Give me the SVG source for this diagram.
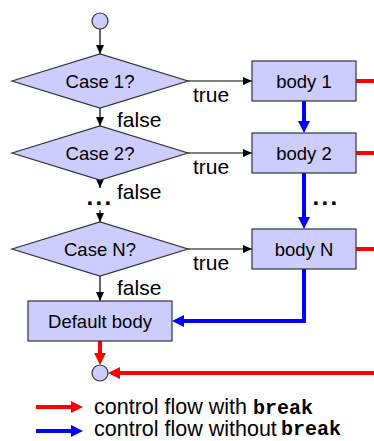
<svg xmlns="http://www.w3.org/2000/svg" width="374" height="441" viewBox="0 0 374 441">
<style>
.node{fill:#ccccff;stroke:#333;stroke-width:1.2}
.nt{font-family:"Liberation Sans",Arial,sans-serif;font-size:18.5px;fill:#000;text-anchor:middle}
.lbl{font-family:"Liberation Sans",Arial,sans-serif;font-size:21px;fill:#000}
.leg{font-family:"Liberation Sans",Arial,sans-serif;font-size:21.5px;fill:#000}
.mono{font-family:"Liberation Mono","Courier New",monospace;font-size:20px;font-weight:bold;fill:#000}
.blk{fill:none;stroke:#000;stroke-width:1.2}
.red{fill:none;stroke:#ff0000;stroke-width:4}
.blue{fill:none;stroke:#0000ff;stroke-width:4}
.dots{font-family:"Liberation Sans",Arial,sans-serif;font-size:24px;font-weight:bold;letter-spacing:2.3px;fill:#000}
</style>
<defs>
<marker id="ab" markerUnits="userSpaceOnUse" markerWidth="9" markerHeight="8" viewBox="0 0 9 8" refX="9" refY="4" orient="auto">
<path d="M0,0 L9,4 L0,8 z" fill="#000"/>
</marker>
<marker id="ar" markerUnits="userSpaceOnUse" markerWidth="12" markerHeight="12" viewBox="0 0 12 12" refX="4" refY="6" orient="auto">
<path d="M0,0 L12,6 L0,12 z" fill="#ff0000"/>
</marker>
<marker id="au" markerUnits="userSpaceOnUse" markerWidth="12" markerHeight="12" viewBox="0 0 12 12" refX="4" refY="6" orient="auto">
<path d="M0,0 L12,6 L0,12 z" fill="#0000ff"/>
</marker>
</defs>
<rect width="374" height="441" fill="#fff"/>

<g id="connectors">
<path class="blk" d="M100,29 V54" marker-end="url(#ab)"/>
<path class="blk" d="M100,108 V126" marker-end="url(#ab)"/>
<path class="blk" d="M100,180 V188" marker-end="url(#ab)"/>
<path class="blk" d="M100,210 V222" marker-end="url(#ab)"/>
<path class="blk" d="M100,276 V301" marker-end="url(#ab)"/>
<path class="blk" d="M188,81 H252" marker-end="url(#ab)"/>
<path class="blk" d="M188,153 H252" marker-end="url(#ab)"/>
<path class="blk" d="M188,249 H252" marker-end="url(#ab)"/>
<path class="blue" d="M304,101 V125" marker-end="url(#au)"/>
<path class="blue" d="M304,173 V221" marker-end="url(#au)"/>
<path class="blue" d="M304,269 V321 H180" marker-end="url(#au)"/>
<path class="red" d="M356,81 H374"/>
<path class="red" d="M356,153 H374"/>
<path class="red" d="M356,249 H374"/>
<path class="red" d="M100,341 V357" marker-end="url(#ar)"/>
<path class="red" d="M374,373 H116" marker-end="url(#ar)"/>
</g>

<g id="start"><circle class="node" cx="100" cy="21" r="8"/></g>
<g id="case1"><polygon class="node" points="12,81 100,54 188,81 100,108"/><text class="nt" x="100" y="88">Case 1?</text></g>
<g id="case2"><polygon class="node" points="12,153 100,126 188,153 100,180"/><text class="nt" x="100" y="160">Case 2?</text></g>
<g id="caseN"><polygon class="node" points="12,249 100,222 188,249 100,276"/><text class="nt" x="100" y="256">Case N?</text></g>
<g id="body1"><rect class="node" x="252" y="61" width="104" height="40"/><text class="nt" x="304" y="88">body 1</text></g>
<g id="body2"><rect class="node" x="252" y="133" width="104" height="40"/><text class="nt" x="304" y="160">body 2</text></g>
<g id="bodyN"><rect class="node" x="252" y="229" width="104" height="40"/><text class="nt" x="304" y="256">body N</text></g>
<g id="default"><rect class="node" x="28" y="301" width="144" height="40"/><text class="nt" x="100" y="328">Default body</text></g>
<g id="end"><circle class="node" cx="100" cy="373" r="8"/></g>

<g id="labels">
<text class="lbl" x="193" y="102">true</text>
<text class="lbl" x="193" y="174">true</text>
<text class="lbl" x="193" y="270">true</text>
<text class="lbl" x="117" y="127">false</text>
<text class="lbl" x="117" y="199">false</text>
<text class="lbl" x="117" y="295">false</text>
<text class="dots" x="86.5" y="205">...</text>
<text class="dots" x="312.5" y="205">...</text>
</g>

<g id="legend">
<path class="red" d="M36,407 H75" marker-end="url(#ar)"/>
<path class="blue" d="M36,431 H75" marker-end="url(#au)"/>
<text class="leg" x="94" y="414">control flow with</text>
<text class="mono" x="253" y="414">break</text>
<text class="leg" x="94" y="436">control flow without</text>
<text class="mono" x="281" y="435">break</text>
</g>
</svg>
